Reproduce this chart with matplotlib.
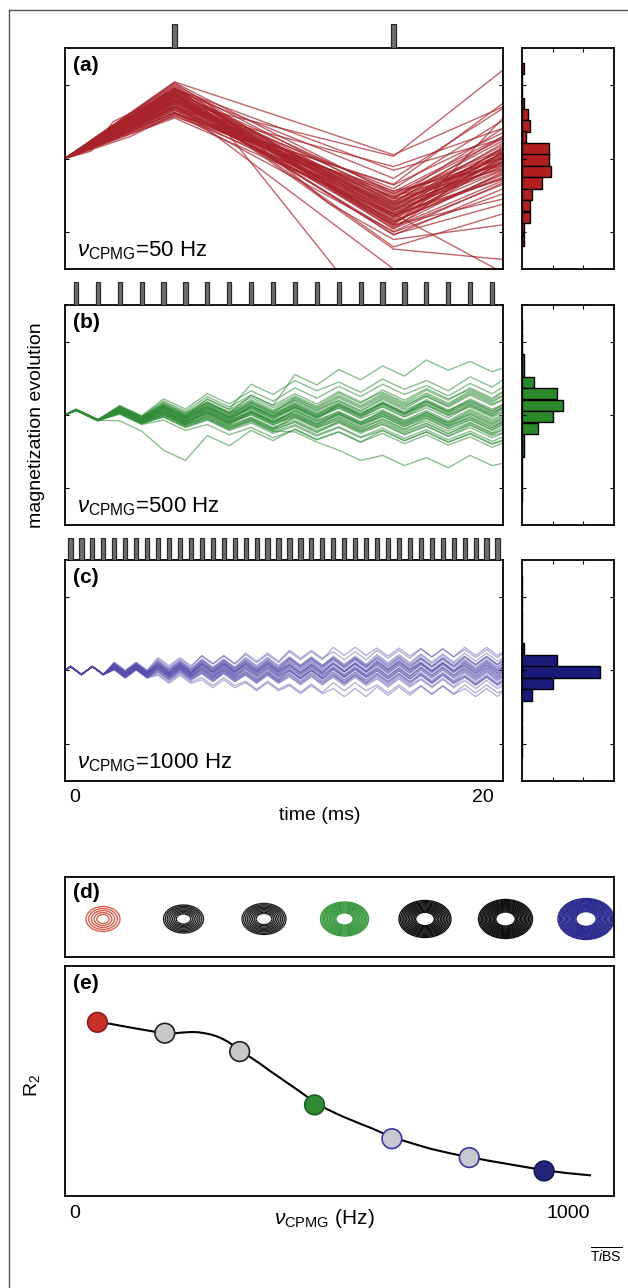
# Figura CPMG: evolución de la magnetización, histogramas y curva de dispersión R2
import numpy as np
import matplotlib.pyplot as plt
from matplotlib.patches import Ellipse
from matplotlib.lines import Line2D

plt.rcParams['font.family'] = ['Liberation Sans', 'DejaVu Sans']
plt.rcParams['mathtext.fontset'] = 'custom'
plt.rcParams['mathtext.rm'] = 'Liberation Sans'
plt.rcParams['mathtext.it'] = 'Liberation Sans:italic'
plt.rcParams['mathtext.bf'] = 'Liberation Sans:bold'

# ---------------- datos ----------------
# tiempos de los pulsos de refoco (ms)
pulsos_a = [5, 15]
pulsos_b = [0.5, 1.5, 2.5, 3.5, 4.5, 5.5, 6.5, 7.5, 8.5, 9.5,
            10.5, 11.5, 12.5, 13.5, 14.5, 15.5, 16.5, 17.5, 18.5, 19.5]
pulsos_c = [0.25, 0.75, 1.25, 1.75, 2.25, 2.75, 3.25, 3.75, 4.25, 4.75,
            5.25, 5.75, 6.25, 6.75, 7.25, 7.75, 8.25, 8.75, 9.25, 9.75,
            10.25, 10.75, 11.25, 11.75, 12.25, 12.75, 13.25, 13.75, 14.25, 14.75,
            15.25, 15.75, 16.25, 16.75, 17.25, 17.75, 18.25, 18.75, 19.25, 19.75]

# (a) 50 Hz: valor de cada trayectoria en 5 ms, 15 ms y 20 ms
a_pico = [0.79, 0.85, 0.75, 0.68, 0.89, 0.96, 0.66, 0.82, 0.71, 0.92, 0.62, 1.00, 0.78, 0.86,
          0.74, 0.93, 0.55, 1.03, 0.81, 0.68, 0.90, 0.84, 0.63, 0.97, 0.77, 0.88, 0.73, 0.95,
          0.80, 0.70, 0.87, 0.76, 0.58, 0.91, 0.83, 0.72, 0.94, 0.66, 0.88, 0.78, 0.99, 0.60,
          0.86, 0.74, 0.90, 0.69, 0.81, 0.95, 0.57, 0.84, 0.76, 1.02, 0.65, 0.92, 0.70, 0.87,
          0.79, 0.62]
a_eco = [-0.75, -0.82, -0.68, -0.62, -0.89, -0.96, -0.55, -0.79, -0.85, -0.66, -0.99, -0.55, -0.41, -1.04,
         -0.90, -0.27, -0.75, -0.48, -1.03, -0.11, -1.20, -0.58, -0.79, -0.71, 0.03, -1.23, -1.50, -0.16,
         -0.72, -0.60, -0.86, -0.52, -0.64, -0.93, -0.70, -0.63, -0.80, -0.52, -0.74, -0.66, -0.92, -0.47,
         -0.85, -0.58, -0.68, -0.77, -0.62, -0.88, -0.44, -0.95, -0.54, -0.78, -0.70, -0.60, -0.83, -0.50,
         -1.00, -0.36]
a_final = [0.00, 0.03, -0.05, 0.07, -0.04, 0.11, -0.14, 0.16, -0.25, 0.21, -0.33, 0.41, 0.52, -0.41,
           -0.55, 0.68, -0.27, 0.27, -0.62, 0.41, -0.75, 0.07, -0.16, 0.14, 1.20, -1.37, -1.50, 0.27,
           -0.08, 0.02, -0.20, 0.10, -0.12, -0.30, -0.02, 0.04, 0.09, -0.06, -0.10, 0.12, -0.18, 0.00,
           -0.22, 0.18, 0.05, -0.28, -0.04, 0.02, -0.09, -0.35, 0.24, 0.08, -0.15, 0.30, -0.05, 0.13,
           -0.48, 0.35]
# trayectorias con cambios de pendiente (tiempos, valores)
a_quiebres = [
    ([0, 5, 7, 12.5], [0, 0.70, 0.50, -1.55]),
    ([0, 5, 6.5, 12, 15, 20], [0, 0.95, 0.75, -0.60, -1.10, -0.90]),
    ([0, 1.2, 2.2, 5, 15, 20], [0, 0.10, 0.50, 0.90, -0.45, 0.30]),
    ([0, 5, 9, 15, 20], [0, 0.62, 0.15, -0.75, -1.55]),
    ([0, 5, 15, 16.5, 20], [0, 0.85, -0.90, -0.55, 0.55]),
    ([0, 3, 5, 15, 20], [0, 0.30, 0.60, -0.35, 0.75]),
    ([0, 5, 10, 15, 20], [0, 1.04, 0.55, 0.05, 0.70]),
]

# (b) 500 Hz y (c) 1000 Hz: amplitud del zigzag y deriva de cada trayectoria (cada 2 ms)
b_zigzag = 0.07
b_deriva = [
    [0.00, 0.02, 0.04, 0.03, 0.05, 0.06, 0.05, 0.07, 0.08, 0.06, 0.05],
    [0.00, -0.02, -0.03, -0.05, -0.04, -0.06, -0.08, -0.07, -0.09, -0.10, -0.08],
    [0.01, 0.04, 0.08, 0.10, 0.12, 0.14, 0.13, 0.16, 0.18, 0.20, 0.22],
    [-0.01, -0.05, -0.09, -0.12, -0.14, -0.16, -0.18, -0.20, -0.22, -0.24, -0.25],
    [0.00, 0.01, 0.00, 0.02, 0.01, 0.03, 0.02, 0.00, -0.01, 0.01, 0.00],
    [0.00, -0.01, 0.02, 0.00, -0.02, -0.01, -0.03, -0.02, -0.04, -0.03, -0.05],
    [0.01, 0.03, 0.06, 0.09, 0.08, 0.11, 0.12, 0.14, 0.12, 0.15, 0.14],
    [-0.01, -0.03, -0.06, -0.07, -0.10, -0.11, -0.13, -0.12, -0.15, -0.17, -0.16],
    [0.00, 0.05, 0.12, 0.18, 0.20, 0.22, 0.25, 0.24, 0.27, 0.30, 0.32],
    [0.00, -0.04, -0.10, -0.14, -0.18, -0.22, -0.24, -0.28, -0.30, -0.33, -0.35],
    [0.00, 0.02, 0.03, 0.06, 0.09, 0.07, 0.08, 0.10, 0.11, 0.09, 0.10],
    [0.00, -0.02, -0.04, -0.03, -0.06, -0.09, -0.10, -0.09, -0.11, -0.13, -0.12],
    [0.00, 0.00, -0.02, 0.01, 0.04, 0.05, 0.03, 0.05, 0.06, 0.04, 0.03],
    [0.00, 0.01, -0.01, -0.04, -0.03, -0.02, -0.05, -0.06, -0.04, -0.06, -0.07],
    [0.00, 0.03, 0.07, 0.05, 0.10, 0.16, 0.18, 0.20, 0.19, 0.22, 0.20],
    [0.00, -0.03, -0.07, -0.09, -0.12, -0.10, -0.14, -0.17, -0.19, -0.18, -0.21],
    [0.00, 0.06, 0.15, 0.22, 0.26, 0.30, 0.32, 0.35, 0.33, 0.36, 0.38],
    [0.00, -0.06, -0.14, -0.20, -0.24, -0.27, -0.30, -0.32, -0.34, -0.37, -0.38],
    [0.00, 0.01, 0.03, 0.04, 0.02, 0.04, 0.07, 0.09, 0.07, 0.08, 0.11],
    [0.00, -0.01, -0.02, -0.01, -0.03, -0.05, -0.04, -0.02, -0.03, -0.01, -0.02],
    [0.00, 0.02, 0.01, 0.04, 0.06, 0.08, 0.10, 0.09, 0.12, 0.13, 0.12],
    [0.00, -0.02, -0.01, -0.03, -0.02, 0.00, -0.02, -0.04, -0.06, -0.05, -0.04],
    [0.00, 0.03, 0.05, 0.08, 0.11, 0.13, 0.16, 0.18, 0.21, 0.24, 0.26],
    [0.00, -0.04, -0.07, -0.11, -0.13, -0.17, -0.16, -0.19, -0.22, -0.21, -0.24],
    [0.00, 0.01, 0.02, 0.00, 0.03, 0.02, 0.05, 0.04, 0.03, 0.06, 0.08],
    [0.00, -0.01, -0.03, -0.06, -0.05, -0.07, -0.06, -0.09, -0.08, -0.11, -0.10],
    [0.00, 0.04, 0.09, 0.11, 0.14, 0.17, 0.20, 0.22, 0.23, 0.26, 0.27],
    [0.00, -0.03, -0.05, -0.08, -0.11, -0.14, -0.16, -0.15, -0.18, -0.20, -0.19],
    [0.00, 0.02, 0.04, 0.07, 0.06, 0.09, 0.08, 0.11, 0.14, 0.12, 0.15],
    [0.00, -0.02, -0.05, -0.04, -0.07, -0.08, -0.11, -0.13, -0.12, -0.14, -0.13],
    [0.00, 0.00, 0.01, 0.03, 0.05, 0.04, 0.06, 0.08, 0.10, 0.11, 0.09],
    [0.00, 0.00, -0.02, -0.02, -0.01, -0.04, -0.06, -0.05, -0.07, -0.08, -0.10],
    [0.00, 0.05, 0.10, 0.14, 0.17, 0.19, 0.23, 0.27, 0.29, 0.28, 0.31],
    [0.00, -0.05, -0.09, -0.13, -0.16, -0.20, -0.23, -0.25, -0.27, -0.29, -0.30],
    # trayectorias que se alejan de la banda
    [0.00, 0.03, 0.06, 0.10, 0.20, 0.48, 0.55, 0.60, 0.68, 0.66, 0.64],
    [0.00, -0.15, -0.55, -0.35, -0.28, -0.26, -0.30, -0.28, -0.30, -0.32, -0.34],
    [0.00, -0.03, -0.06, -0.10, -0.15, -0.30, -0.55, -0.62, -0.65, -0.62, -0.66],
    [0.00, 0.02, 0.05, 0.15, 0.35, 0.40, 0.38, 0.42, 0.40, 0.45, 0.48],
]
c_zigzag = 0.055
c_deriva = [
    [0.00, 0.02, 0.04, 0.05, 0.04, 0.06, 0.05, 0.07, 0.06, 0.05, 0.06],
    [0.00, -0.02, -0.03, -0.04, -0.06, -0.05, -0.07, -0.06, -0.08, -0.07, -0.08],
    [0.00, 0.04, 0.08, 0.10, 0.12, 0.13, 0.12, 0.14, 0.15, 0.14, 0.15],
    [0.00, -0.04, -0.08, -0.10, -0.12, -0.14, -0.13, -0.15, -0.16, -0.15, -0.17],
    [0.00, 0.01, 0.00, 0.01, 0.02, 0.01, 0.00, 0.01, 0.02, 0.01, 0.00],
    [0.00, -0.01, 0.01, -0.01, -0.02, -0.01, -0.02, -0.03, -0.02, -0.03, -0.02],
    [0.00, 0.03, 0.05, 0.08, 0.07, 0.09, 0.10, 0.09, 0.11, 0.10, 0.09],
    [0.00, -0.03, -0.05, -0.07, -0.09, -0.08, -0.10, -0.11, -0.10, -0.12, -0.11],
    [0.00, 0.05, 0.10, 0.15, 0.18, 0.22, 0.20, 0.22, 0.24, 0.23, 0.24],
    [0.00, -0.05, -0.10, -0.15, -0.20, -0.24, -0.22, -0.25, -0.26, -0.25, -0.27],
    [0.00, 0.02, 0.02, 0.03, 0.05, 0.04, 0.03, 0.04, 0.05, 0.03, 0.04],
    [0.00, -0.02, -0.03, -0.02, -0.04, -0.05, -0.04, -0.05, -0.04, -0.06, -0.05],
    [0.00, 0.00, 0.02, 0.04, 0.03, 0.02, 0.04, 0.06, 0.05, 0.07, 0.06],
    [0.00, 0.01, -0.01, -0.02, 0.00, -0.01, -0.03, -0.02, -0.01, -0.02, -0.03],
    [0.00, 0.01, 0.03, 0.02, 0.04, 0.03, 0.05, 0.04, 0.03, 0.05, 0.04],
    [0.00, -0.01, -0.02, -0.04, -0.03, -0.05, -0.04, -0.06, -0.05, -0.04, -0.06],
    [0.00, 0.03, 0.06, 0.07, 0.09, 0.10, 0.12, 0.11, 0.12, 0.13, 0.12],
    [0.00, -0.03, -0.06, -0.08, -0.10, -0.11, -0.12, -0.13, -0.12, -0.14, -0.13],
    [0.00, 0.02, 0.01, 0.03, 0.01, 0.02, 0.03, 0.02, 0.04, 0.02, 0.03],
    [0.00, -0.02, -0.01, 0.00, -0.01, -0.03, -0.01, -0.02, -0.01, 0.00, -0.01],
    [0.00, 0.04, 0.07, 0.09, 0.11, 0.12, 0.14, 0.16, 0.17, 0.18, 0.17],
    [0.00, -0.04, -0.07, -0.09, -0.11, -0.13, -0.15, -0.17, -0.18, -0.19, -0.20],
    [0.00, 0.01, 0.02, 0.04, 0.06, 0.07, 0.08, 0.07, 0.09, 0.08, 0.10],
    [0.00, -0.01, -0.03, -0.05, -0.07, -0.06, -0.08, -0.09, -0.10, -0.09, -0.08],
    [0.00, 0.02, 0.04, 0.06, 0.08, 0.11, 0.10, 0.12, 0.11, 0.13, 0.14],
    [0.00, -0.02, -0.04, -0.06, -0.08, -0.10, -0.11, -0.10, -0.12, -0.13, -0.15],
    [0.00, 0.06, 0.12, 0.14, 0.16, 0.20, 0.26, 0.25, 0.24, 0.26, 0.25],
    [0.00, -0.04, -0.12, -0.18, -0.22, -0.26, -0.30, -0.28, -0.27, -0.30, -0.28],
]

# histogramas de la magnetización final (centros de clase y cuentas)
centros_hist = [1.22, 1.06, 0.91, 0.75, 0.60, 0.44, 0.29, 0.13, -0.02, -0.18, -0.33, -0.49, -0.64, -0.80, -0.95, -1.11]
hist_a = [1, 0, 0, 1, 3, 4, 2, 13, 13, 14, 10, 5, 4, 4, 1, 1]
hist_b = [0, 0, 0, 1, 1, 6, 17, 20, 15, 8, 1, 1, 0, 0, 0, 0]
hist_c = [0, 0, 0, 0, 0, 0, 1, 17, 38, 15, 5, 0, 0, 0, 0, 0]

# (d) distribuciones de fase: tamaño y color de cada conjunto de anillos
anillo_ancho = [34, 40, 44, 48, 52, 54, 56]
anillo_alto = [25, 28, 31, 34, 37, 39, 41]
anillo_n = [5, 8, 9, 12, 12, 14, 16]
anillo_color = ['#d9604f', '#222222', '#222222', '#3a9a40', '#111111', '#111111', '#2b2b8f']

# (e) curva de dispersión R2 frente a nu_CPMG
curva_nu = [52, 68, 90, 112, 135, 151, 175, 199, 215, 231, 245, 255, 267, 279, 291, 303, 315, 327,
            339, 351, 371, 391, 410, 430, 450, 470, 486, 502, 522, 542, 558, 574, 594, 614, 636,
            658, 676, 694, 714, 733, 753, 773, 791, 809, 845, 885, 925, 961, 1004, 1052]
curva_r2 = [0.762, 0.757, 0.749, 0.740, 0.731, 0.725, 0.716, 0.706, 0.706, 0.710, 0.712, 0.713, 0.712,
            0.708, 0.703, 0.695, 0.684, 0.670, 0.652, 0.632, 0.604, 0.575, 0.545, 0.515, 0.485, 0.455,
            0.430, 0.405, 0.381, 0.360, 0.344, 0.330, 0.312, 0.295, 0.274, 0.255, 0.242, 0.230, 0.217,
            0.205, 0.195, 0.185, 0.177, 0.170, 0.155, 0.140, 0.125, 0.112, 0.100, 0.090]
nu_puntos = [65, 200, 350, 500, 655, 810, 960]
r2_puntos = [0.755, 0.708, 0.628, 0.396, 0.249, 0.167, 0.109]
relleno = ['#c8302a', '#c8c8c8', '#c8c8c8', '#2e8b34', '#c8c8d0', '#c8c8d0', '#23237a']
borde = ['#8a1d18', '#222222', '#222222', '#1d5e22', '#3a3a9a', '#3a3a9a', '#14144f']

# ---------------- figura ----------------
W, H = 628, 1288
fig = plt.figure(figsize=(W / 100, H / 100), dpi=100)


def caja(x0, y0, x1, y1):
    # convierte una caja en píxeles (origen arriba a la izquierda) a fracción de figura
    return [x0 / W, 1 - y1 / H, (x1 - x0) / W, (y1 - y0) / H]


def fx(x):
    return x / W


def fy(y):
    return 1 - y / H


# marco exterior (solo lados superior e izquierdo)
fig.add_artist(Line2D([fx(9), fx(9)], [fy(10), 0], color='#555555', lw=1.0))
fig.add_artist(Line2D([fx(9), 1], [fy(10), fy(10)], color='#555555', lw=1.0))


def estilo_caja(ax):
    for s in ax.spines.values():
        s.set_linewidth(1.3)
    ax.tick_params(direction='in', length=3, width=0.8, top=True, right=True,
                   labelleft=False, labelbottom=False)


def panel(fila, pulsos, color_hist, cuentas, letra, etiqueta):
    y0, y1, yp0 = fila
    ax = fig.add_axes(caja(65, y0, 503, y1))
    axh = fig.add_axes(caja(522, y0, 614, y1))
    axp = fig.add_axes(caja(65, yp0, 503, y0), sharex=ax)

    # pulsos de refoco
    axp.bar(pulsos, [1] * len(pulsos), width=0.19, bottom=0, color='#6e6e6e',
            edgecolor='#2a2a2a', linewidth=0.9, align='center')
    axp.set_ylim(0, 1.02)
    axp.axis('off')

    ax.set_xlim(0, 20)
    ax.set_ylim(-1.5, 1.5)
    ax.set_xticks([])
    ax.set_yticks([-1, 0, 1])
    estilo_caja(ax)
    ax.text(0.018, 0.965, letra, transform=ax.transAxes, ha='left', va='top',
            fontsize=15, fontweight='bold', zorder=5)
    ax.text(0.027, 0.055, etiqueta, transform=ax.transAxes, ha='left', va='baseline',
            fontsize=16, zorder=5)

    axh.barh(centros_hist, cuentas, height=0.155, color=color_hist, edgecolor='black', linewidth=1.0)
    axh.set_xlim(0, 45)
    axh.set_ylim(-1.5, 1.5)
    axh.set_xticks([15, 30])
    axh.set_yticks([-1, 0, 1])
    estilo_caja(axh)
    return ax


# (a) 50 Hz
ax_a = panel((48, 269, 24), pulsos_a, '#b01e1e', hist_a, '(a)', r'$\nu_{\rm CPMG}$=50 Hz')
for p, e, f in zip(a_pico, a_eco, a_final):
    ax_a.plot([0, 5, 15, 20], [0, p, e, f], color='#a8222a', lw=1.0, alpha=0.7)
for t, v in a_quiebres:
    ax_a.plot(t, v, color='#a8222a', lw=1.0, alpha=0.7)

# (b) 500 Hz
ax_b = panel((305, 525, 282), pulsos_b, '#2a8a2a', hist_b, '(b)', r'$\nu_{\rm CPMG}$=500 Hz')
t_b = [0] + pulsos_b + [20]
signo_b = np.array([0] + [(-1) ** k for k in range(len(pulsos_b))] + [0])
for d in b_deriva:
    base = np.concatenate([[0], np.repeat(d[:10], 2), [d[10]]])
    ax_b.plot(t_b, base + b_zigzag * signo_b, color='#2e8b34', lw=1.0, alpha=0.55)

# (c) 1000 Hz
ax_c = panel((560, 781, 538), pulsos_c, '#1a1a7a', hist_c, '(c)', r'$\nu_{\rm CPMG}$=1000 Hz')
t_c = [0] + pulsos_c + [20]
signo_c = np.array([0] + [(-1) ** k for k in range(len(pulsos_c))] + [0])
for d in c_deriva:
    base = np.concatenate([[0], np.repeat(d[:10], 4), [d[10]]])
    ax_c.plot(t_c, base + c_zigzag * signo_c, color='#5048a8', lw=0.9, alpha=0.45)

# etiquetas comunes de los paneles a-c
fig.text(fx(75), fy(798), '0', ha='center', va='center', fontsize=14)
fig.text(fx(483), fy(798), '20', ha='center', va='center', fontsize=14)
fig.text(fx(320), fy(816), 'time (ms)', ha='center', va='center', fontsize=14)
fig.text(fx(37), fy(425), 'magnetization evolution', ha='center', va='center',
         rotation=90, fontsize=14)

# (d) anillos
ax_d = fig.add_axes(caja(65, 877, 614, 957))
ax_d.set_xlim(0, 549)
ax_d.set_ylim(0, 80)
ax_d.set_xticks([])
ax_d.set_yticks([])
for s in ax_d.spines.values():
    s.set_linewidth(1.3)
for i in range(len(anillo_ancho)):
    cx = 38 + 80.5 * i
    for f in np.linspace(0.36, 1.0, anillo_n[i]):
        ax_d.add_patch(Ellipse((cx, 38), anillo_ancho[i] * f, anillo_alto[i] * f, fill=False,
                               edgecolor=anillo_color[i], lw=1.0))
ax_d.text(0.015, 0.93, '(d)', transform=ax_d.transAxes, ha='left', va='top',
          fontsize=15, fontweight='bold')

# (e) curva R2
ax_e = fig.add_axes(caja(65, 966, 614, 1196))
ax_e.set_xlim(0, 1100)
ax_e.set_ylim(0, 1)
ax_e.set_xticks([])
ax_e.set_yticks([])
for s in ax_e.spines.values():
    s.set_linewidth(1.3)
ax_e.plot(curva_nu, curva_r2, color='black', lw=1.5, zorder=2)
ax_e.scatter(nu_puntos, r2_puntos, s=200, c=relleno, edgecolors=borde, linewidths=1.2, zorder=3)
ax_e.text(0.015, 0.965, '(e)', transform=ax_e.transAxes, ha='left', va='top',
          fontsize=15, fontweight='bold')

fig.text(fx(75), fy(1213), '0', ha='center', va='center', fontsize=14)
fig.text(fx(568), fy(1213), '1000', ha='center', va='center', fontsize=14)
fig.text(fx(324), fy(1218), r'$\nu_{\rm CPMG}$ (Hz)', ha='center', va='center', fontsize=15)
fig.text(fx(32), fy(1085), r'R$_2$', ha='center', va='center', rotation=90, fontsize=14)
fig.text(fx(622), fy(1256), r'$\overline{\mathrm{T}\mathit{i}\mathrm{BS}}$', ha='right',
         va='center', fontsize=10)

fig.savefig('out.png', dpi=100)
